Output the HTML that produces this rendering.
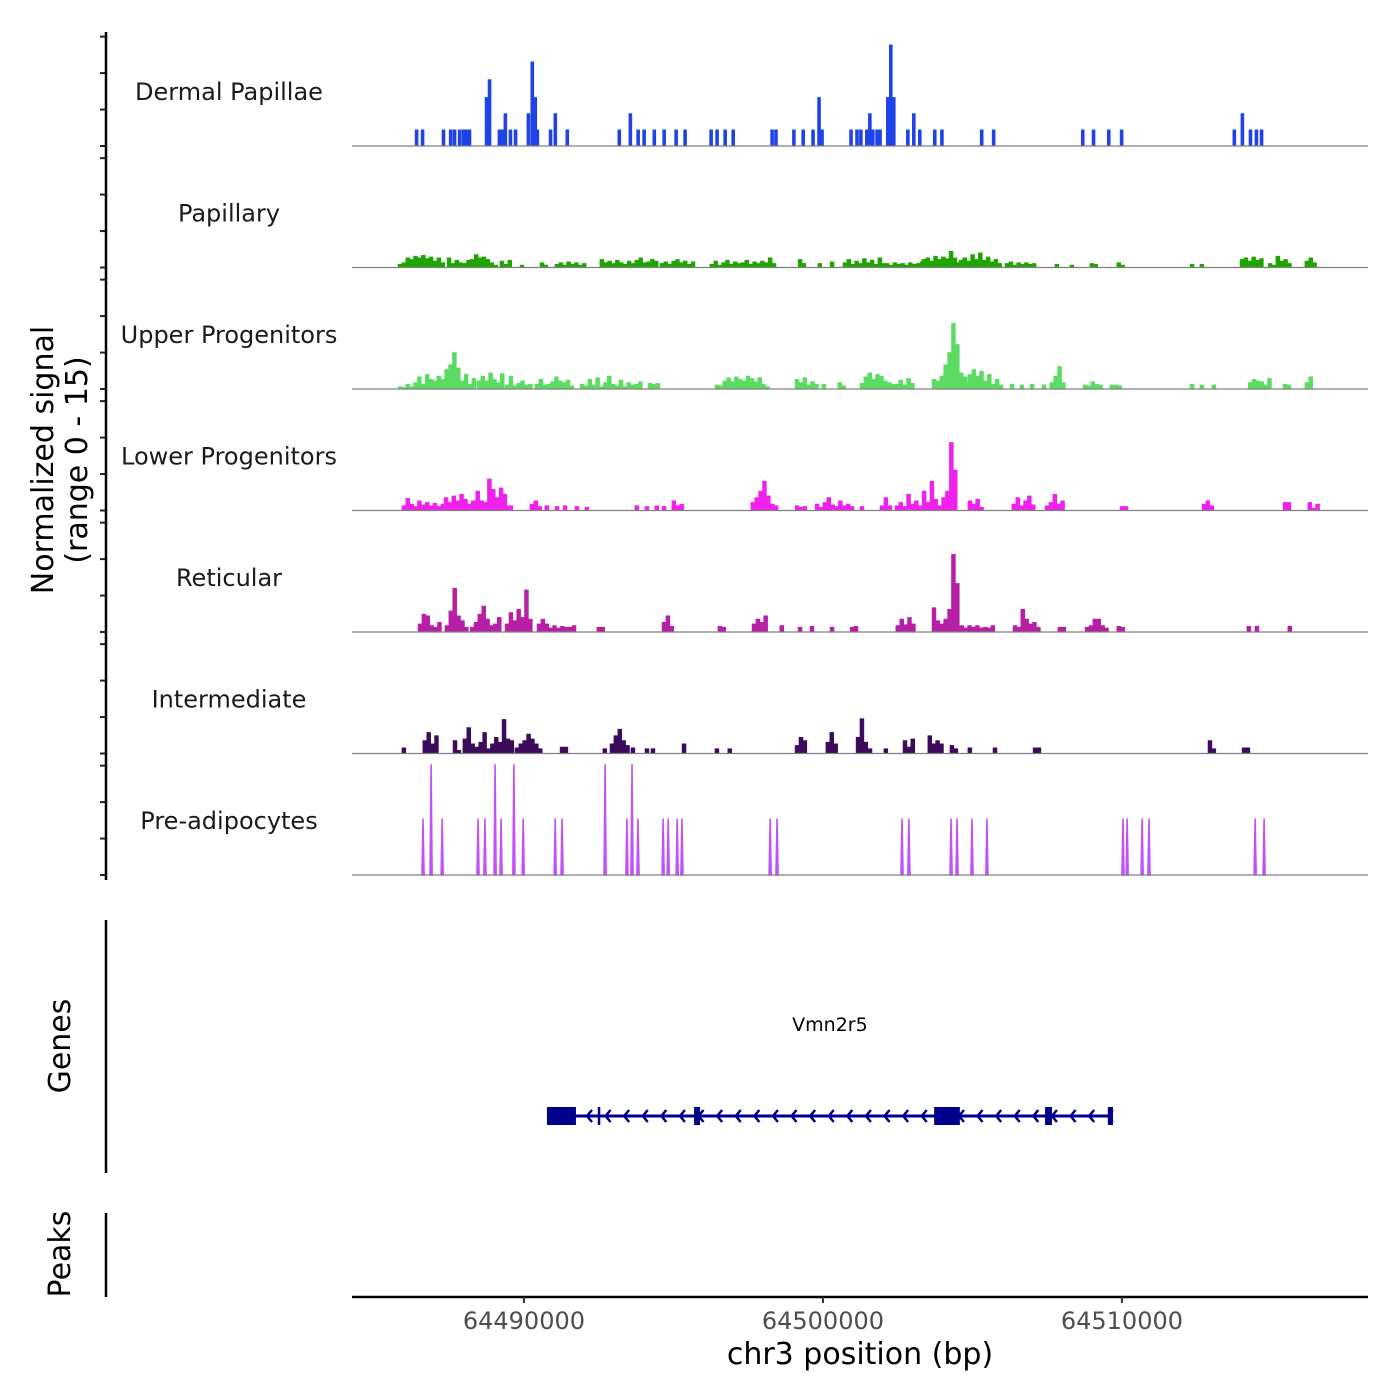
<!DOCTYPE html>
<html><head><meta charset="utf-8"><style>
html,body{margin:0;padding:0;background:#fff;}
svg{display:block;font-family:"DejaVu Sans","Liberation Sans",sans-serif;}
</style></head><body>
<svg id="chart" width="1400" height="1400" viewBox="0 0 1400 1400"></svg>
<script>
// ---------- data ----------
const xDomain = [64484250, 64518230];
const xTicks = [64490000, 64500000, 64510000];
const yTicks = [0, 4.5, 9, 13.5];
const yMax = 15;
const trackNames = ["Dermal Papillae","Papillary","Upper Progenitors","Lower Progenitors","Reticular","Intermediate","Pre-adipocytes"];
const trackColors = ["#1f43e6","#1fa500","#5cdb62","#f021ec","#b71fa6","#3c0b5c","#c152f7"];
const trackBins = [100,130,130,130,130,130,70];

const dermalStarts = [64486360,64486560,64487260,64487500,64487630,64487800,64487930,64488030,64488130,64488700,64489130,64489230,64489330,64489500,64489670,64490100,64490230,64490400,64490840,64491000,64491400,64493140,64493510,64493770,64493970,64494310,64494640,64495040,64495340,64496210,64496410,64496680,64496950,64498250,64498380,64498980,64499290,64499620,64499820,64500890,64501090,64501220,64501420,64501520,64501620,64501760,64501860,64502120,64502790,64502990,64503190,64503690,64503930,64505260,64505660,64508640,64509000,64509510,64509940,64513710,64513980,64514250,64514450,64514620];
const dermalVals = [[2],[2],[2],[2],[2],[2],[2],[2],[2],[6,8.2],[2],[2],[4],[2],[2],[4],[10.4,6],[2],[2],[4],[2],[2],[4],[2],[2],[2],[2],[2],[2],[2],[2],[2],[2],[2],[2],[2],[2],[2],[6,2],[2],[2],[2],[2],[4],[2],[2],[2],[6,12.5,6],[2],[4],[2],[2],[2],[2],[2],[2],[2],[2],[2],[2],[4],[2],[2],[2]];

const papStarts = [64485790,64487430,64489200,64489870,64490540,64491040,64492540,64494550,64496220,64499170,64499830,64500240,64500670,64502080,64503310,64504420,64506090,64507760,64508260,64508930,64509830,64512280,64512610,64513950,64514890,64515150,64516120];
const papVals = [[0.4,0.6,1.2,1.0,1.4,1.2,1.5,1.1,1.3,0.8,1.2,0.6],[1.2,0.5,0.9,0.6,0.5,0.9,1.0,1.6,1.2,1.3,1.0,0.6,0.3],[0.8,0.4,0.9],[0.3],[0.6,0.3],[0.4,0.6,0.3,0.7,0.4,0.6,0.3,0.5],[1.0,0.6,0.8,0.5,0.9,0.6,0.4,0.8,0.5,0.9,1.2,0.6,0.7,1.0,0.8],[0.5,0.7,0.4,0.8,1.0,0.6,0.8,0.4,0.7],[0.4,0.8,0.3,0.6,0.9,0.4,0.7,0.5,0.6,0.9,0.4,0.7,0.5,0.8,0.6,1.2,0.5],[1.0,0.5],[0.5],[0.7],[0.6,1.0,0.4,0.8,0.5,1.1,0.6,0.9,0.4,1.2,0.5],[0.5,0.3,0.6,0.4,0.5,0.3,0.6,0.4,0.5,0.7],[1.0,1.2,0.8,1.4,1.0,1.3,1.1,2.0,1.2],[0.6,0.9,1.2,0.8,1.6,1.0,1.8,0.9,1.3,0.7,1.0,0.5],[0.5,0.7,0.3,0.6,0.4,0.6,0.4,0.5],[0.4],[0.3],[0.5,0.4],[0.6,0.3],[0.4],[0.4],[1.0,1.2,0.8,1.3,0.9,1.1],[0.5,0.3],[1.4,0.8,1.0,0.5],[0.8,1.2,0.6]];

const upStarts = [64485790,64488430,64489370,64490370,64491880,64494150,64496390,64499070,64499970,64500500,64501240,64502410,64503650,64504850,64506260,64506590,64506930,64507330,64507590,64508700,64509600,64512280,64512610,64513010,64514220,64515390,64516120];
const upVals = [[0.3,0.2,0.6,0.3,0.8,1.5,0.6,1.8,1.2,1.0,1.6,1.2,2.4,3.0,4.5,2.6,1.0,1.8,0.6,1.3],[1.0,1.6,1.0,2.0,1.2,0.8,1.9],[0.5,1.6,0.4,0.7,1.0,0.5,0.6],[0.6,1.2,0.5,0.6,0.9,1.5,1.0,0.8,1.1,0.4],[0.6,0.4,1.2,0.5,1.4,0.3,0.8,1.6,0.6,0.4,1.1,0.3,0.8,0.5,0.6,0.9],[0.7,0.6,0.7],[0.5,0.4,1.0,1.4,0.9,1.5,1.2,1.0,1.6,1.3,0.9,1.4,0.6,0.3],[1.2,0.8,1.4,0.5,0.9,0.6],[0.6],[0.8,0.4],[0.7,1.5,2.0,1.2,1.8,1.6,1.0,0.8,0.6],[0.6,1.1,0.5,1.3,0.7],[1.2,1.0,1.6,3.0,4.5,8.1,5.5,2.0,1.5,0.8],[1.8,2.4,1.6,2.2,1.0,1.8,0.6,1.2,0.5],[0.6],[0.5],[0.6],[0.5],[0.8,1.6,2.8,0.8],[0.5,0.4,0.9,0.6,0.5],[0.5,0.5,0.4],[0.6],[0.5],[0.5],[0.8,1.2,1.0,0.9,0.5,1.3],[0.6,0.5],[0.8,1.5]];

const lowStarts = [64485920,64487330,64488260,64489370,64490200,64490700,64491040,64491310,64491710,64492040,64493710,64494050,64494380,64494620,64494950,64497590,64499070,64499740,64501240,64501910,64502410,64503580,64504850,64506320,64507430,64509940,64512680,64515390,64516220];
const lowVals = [[0.6,1.5,0.8,0.5,1.2,0.7,1.0,0.6,0.9,0.5,0.8],[1.6,1.0,1.8,1.2,2.0,1.4,0.8,1.2],[0.8,2.4,1.2,1.0,3.9,2.6,1.6,2.8,2.0],[0.6,0.6],[0.8,1.2,0.5],[0.6],[0.5],[0.6],[0.5],[0.4],[0.6],[0.5],[0.6],[0.5],[1.2,0.6,0.8],[1.0,1.6,2.4,3.6,1.8,0.8,0.6],[0.6,0.4,0.5],[0.8,0.4,1.0,1.6,0.7,0.5,1.2,0.6,0.8,0.5],[0.5],[0.6,1.6,0.6],[0.6,1.0,0.5,2.0,0.8,1.2,0.6,2.4,1.0],[3.6,1.4,0.6,1.6,2.4,8.4,5.0],[1.2,0.8,1.4,0.4],[0.8,1.6,0.6,1.2,1.8,0.7],[0.6,1.0,2.0,0.8,1.2],[0.5,0.5],[0.8,1.2,0.6],[1.0,1.0],[1.0,0.3,0.8]];

const retStarts = [64486460,64487360,64488200,64489370,64490440,64492440,64494620,64496490,64497630,64498560,64499170,64499570,64500240,64500910,64502440,64503650,64504580,64506360,64507860,64508770,64509830,64514180,64514450,64515550];
const retVals = [[1.0,2.2,2.0,0.8,0.6,1.2],[0.8,2.6,5.4,2.0,1.4,0.6],[0.6,1.2,2.2,3.2,1.6,0.8,1.0,1.8],[1.0,2.4,1.4,2.8,1.8,5.2,1.6],[1.0,1.6,1.0,0.5,0.8,0.5,0.7,0.6,0.6,0.8],[0.6,0.6],[1.2,2.0,0.7],[0.7,0.6],[1.0,1.6,1.2,2.0],[0.8],[0.6],[0.7],[0.6],[0.6,0.7],[0.8,1.6,0.9,1.8,1.0],[3.0,1.4,1.0,1.6,2.8,9.6,6.0],[0.8,0.5,0.8,0.6,0.8,0.5,0.6,0.5,0.8],[0.8,0.6,2.8,1.6,1.0,1.2,0.6],[0.6,0.6],[0.6,0.8,1.6,1.6,0.8,0.5],[0.7,0.6],[0.7],[0.7],[0.7]];

const intStarts = [64485920,64486620,64487630,64487960,64488360,64489700,64491210,64492640,64492880,64493580,64494050,64494250,64495290,64496390,64496820,64499070,64500100,64501110,64501510,64502040,64502680,64503510,64504250,64504850,64505690,64507030,64512880,64514020];
const intVals = [[0.7],[1.6,2.6,1.2,2.2],[1.6,0.4],[1.8,3.2,1.2,0.8],[0.7,1.4,2.6,0.6,1.2,2.0,1.4,4.2,1.8,1.6],[0.7,1.2,1.6,2.4,1.8,1.2,0.6],[0.8,0.8],[0.6],[1.2,2.2,3.0,1.6,1.0],[0.7],[0.6],[0.6],[1.2],[0.6],[0.6],[1.0,2.0,1.6],[1.4,2.6,1.2],[2.0,4.3,1.4],[0.6],[0.6],[1.6,0.8,1.8],[2.2,1.2,1.6,1.2],[1.0,0.6],[0.7],[0.7],[0.7,0.7],[1.6,0.6],[0.7,0.7]];

const preStarts = [64486590,64486860,64487230,64488430,64488660,64489000,64489200,64489630,64489940,64491010,64491240,64492680,64493410,64493580,64493780,64494620,64494790,64495090,64495250,64498200,64498430,64502610,64502840,64504250,64504450,64504950,64505450,64510000,64510140,64510640,64510870,64514420,64514720];
const preVals = [[6.9],[13.6],[6.9],[6.9],[6.9],[13.6],[6.9],[13.6],[6.9],[6.9],[6.9],[13.6],[6.9],[13.6],[6.9],[6.9],[6.9],[6.9],[6.9],[6.9],[6.9],[6.9],[6.9],[6.9],[6.9],[6.9],[6.9],[6.9],[6.9],[6.9],[6.9],[6.9],[6.9]];

const geneName = "Vmn2r5";
const geneSpan = [64490770, 64509700];
const exonStarts = [64490770, 64492470, 64495690, 64503720, 64507430, 64509530];
const exonEnds   = [64491740, 64492540, 64495890, 64504580, 64507660, 64509700];

const allStarts = [dermalStarts,papStarts,upStarts,lowStarts,retStarts,intStarts,preStarts];
const allVals = [dermalVals,papVals,upVals,lowVals,retVals,intVals,preVals];

// ---------- layout ----------
const NS = "http://www.w3.org/2000/svg";
const svg = document.getElementById('chart');
const PX0 = 352, PX1 = 1368;
const baselines = [146, 267.5, 389, 510.5, 632, 753.5, 875];
const panelH = 121.5;
function x(bp){ return PX0 + (bp - xDomain[0]) / (xDomain[1] - xDomain[0]) * (PX1 - PX0); }
function yh(v){ return v / yMax * panelH; }
function mk(tag, attrs, parent){
  const e = document.createElementNS(NS, tag);
  for (const k in attrs) e.setAttribute(k, attrs[k]);
  (parent || svg).appendChild(e);
  return e;
}

trackNames.forEach((name, t) => {
  const g = mk('g', {});
  
  
  const b = baselines[t];
  const starts = allStarts[t], vals = allVals[t], bin = trackBins[t];
  let d = '';
  starts.forEach((s, ci) => {
    const vs = vals[ci];
    if (t === 6) {
      vs.forEach((v, i) => {
        const x0 = x(s + i*bin), x1 = x(s + (i+1)*bin);
        d += `M${x0},${b}L${(x0+x1)/2},${b - yh(v)}L${x1},${b}Z`;
      });
    } else {
      d += `M${x(s)},${b}`;
      vs.forEach((v, i) => {
        d += `L${x(s + i*bin)},${b - yh(v)}L${x(s + (i+1)*bin)},${b - yh(v)}`;
      });
      d += `L${x(s + vs.length*bin)},${b}Z`;
    }
  });
  const p = mk('path', {d: d, fill: trackColors[t], stroke: trackColors[t], 'stroke-width': t===6 ? 1.6 : 0.6, 'stroke-linejoin':'round'}, g);
  
  
  const ln = mk('line', {x1: PX0, x2: PX1, y1: b, y2: b, stroke: '#7f7f7f', 'stroke-width': 1.2}, g);
  
  
  const lb = mk('text', {x: 229, y: b - 46, 'text-anchor': 'middle', 'font-size': 24, fill: '#1a1a1a'}, g);
  lb.textContent = name;
  
  
  yTicks.forEach(v => {
    const tk = mk('line', {x1: 100, x2: 106, y1: b - yh(v), y2: b - yh(v), stroke: '#222', 'stroke-width': 2});
    
    
  });
});

const sp1 = mk('line', {x1:106,x2:106,y1:32,y2:880,stroke:'#000','stroke-width':2.5});


const sp2 = mk('line', {x1:106,x2:106,y1:920,y2:1173,stroke:'#000','stroke-width':2.5});


const sp3 = mk('line', {x1:106,x2:106,y1:1213,y2:1297,stroke:'#000','stroke-width':2.5});



const yt = mk('text', {transform:'translate(53,460) rotate(-90)','text-anchor':'middle','font-size':30,fill:'#000'});


const t1 = mk('tspan', {x:0, dy:0}, yt); t1.textContent = 'Normalized signal';
const t2 = mk('tspan', {x:0, dy:34}, yt); t2.textContent = '(range 0 - 15)';
const gt = mk('text', {transform:'translate(70,1046) rotate(-90)','text-anchor':'middle','font-size':30,fill:'#000'});
gt.textContent = 'Genes';


const pt = mk('text', {transform:'translate(70,1254) rotate(-90)','text-anchor':'middle','font-size':30,fill:'#000'});
pt.textContent = 'Peaks';



const gg = mk('g', {});


const gy = 1116;
const gl = mk('line', {x1:x(geneSpan[0]),x2:x(geneSpan[1]),y1:gy,y2:gy,stroke:'#00008b','stroke-width':3}, gg);


for (let px = x(geneSpan[0]) + 40; px < x(geneSpan[1]) - 5; px += 18.6) {
  const ch = mk('path', {d:`M${px+5},${gy-6}L${px},${gy}L${px+5},${gy+6}`, fill:'none', stroke:'#00008b','stroke-width':2.5}, gg);
  
  
}
exonStarts.forEach((s, i) => {
  const w = Math.max(2.5, x(exonEnds[i]) - x(s));
  const r = mk('rect', {x:x(s), y:gy-9, width:w, height:18, fill:'#00008b'}, gg);
  
  
});
const gn = mk('text', {x:(x(geneSpan[0])+x(geneSpan[1]))/2, y:1031,'text-anchor':'middle','font-size':19,fill:'#000'}, gg);
gn.textContent = geneName;



const xa = mk('line', {x1:PX0,x2:PX1,y1:1297,y2:1297,stroke:'#000','stroke-width':2.5});


xTicks.forEach(v => {
  const tk = mk('line', {x1:x(v),x2:x(v),y1:1297,y2:1303,stroke:'#333','stroke-width':2});
  
  
  const tl = mk('text', {x:x(v), y:1329,'text-anchor':'middle','font-size':24,fill:'#4d4d4d'});
  tl.textContent = String(v);
  
  
});
const xt = mk('text', {x:860, y:1364,'text-anchor':'middle','font-size':30,fill:'#000'});
xt.textContent = 'chr3 position (bp)';


</script>
</body></html>
